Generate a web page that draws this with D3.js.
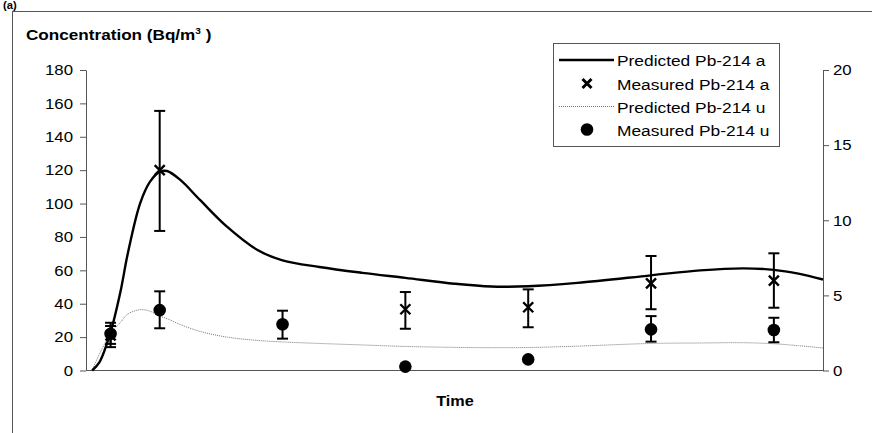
<!DOCTYPE html>
<html>
<head>
<meta charset="utf-8">
<script src="https://cdn.jsdelivr.net/npm/d3@7"></script>
<style>
  html, body { margin: 0; padding: 0; background: #fff; }
  svg { display: block; }
  text { font-family: "Liberation Sans", Arial, sans-serif; fill: #000; }
</style>
</head>
<body>
<svg id="chart" width="872" height="433"></svg>
<script>
// Measurement times (arbitrary time units along the x axis)
const measTimes = [0.2, 0.6, 1.6, 2.6, 3.6, 4.6, 5.6];

// Measured Pb-214 attached (left axis, Bq/m3) with error bar limits
const measuredA     = [21,   120,   null, 36.7, 37.9, 52.2, 53.8];
const measuredALow  = [14,   83.6,  null, 25.0, 25.9, 36.7, 37.6];
const measuredAHigh = [28.6, 155.5, null, 47.0, 48.6, 68.6, 70.2];

// Measured Pb-214 unattached (right axis) with error bar limits
const measuredU     = [2.44, 4.02, 3.08, 0.26, 0.74, 2.74, 2.70];
const measuredULow  = [1.77, 2.81, 2.12, null, null, 1.92, 1.88];
const measuredUHigh = [2.96, 5.27, 3.98, null, null, 3.62, 3.51];

// Model output sampled in time
const predTimes = [0.05, 0.11, 0.2, 0.28, 0.34, 0.44, 0.52, 0.6, 0.66, 0.77, 0.93, 1.15, 1.4, 1.6,
                   1.9, 2.25, 2.6, 3.0, 3.3, 3.6, 4.0, 4.6, 5.0, 5.35, 5.6, 5.8, 6.0];
const predictedA = [0, 5, 23, 47, 70, 100, 113, 119, 119.5, 114, 102, 86, 72, 66,
                    62, 58.5, 55.5, 52, 50.3, 50.5, 52.5, 57, 60, 61.2, 60.3, 58, 54.5];
const predictedU = [0, 1.1, 2.45, 3.2, 3.75, 4.05, 3.95, 3.62, 3.45, 3.05, 2.6, 2.22, 2.0, 1.9,
                    1.8, 1.7, 1.6, 1.54, 1.52, 1.53, 1.62, 1.8, 1.83, 1.85, 1.78, 1.65, 1.5];

// Axis ticks
const leftTicks = [0, 20, 40, 60, 80, 100, 120, 140, 160, 180];
const rightTicks = [0, 5, 10, 15, 20];

const legendLabels = ["Predicted Pb-214 a", "Measured Pb-214 a", "Predicted Pb-214 u", "Measured Pb-214 u"];

// Glyphs are drawn slightly widened horizontally
const SX = 1.12;

const svg = d3.select("#chart");
const plot = { left: 86, right: 823, top: 70, bottom: 370.5 };

const x = d3.scaleLinear().domain([0, 6]).range([plot.left, plot.right]);
const yL = d3.scaleLinear().domain([0, 180]).range([plot.bottom, plot.top]);
const yR = d3.scaleLinear().domain([0, 20]).range([plot.bottom, plot.top]);

// outer frame
svg.append("rect")
  .attr("x", 12.5).attr("y", 11.5).attr("width", 900).attr("height", 500)
  .attr("fill", "none").attr("stroke", "#555").attr("stroke-width", 1);

function stretchedText(g, str, tx, ty, size, weight, anchor) {
  return g.append("text")
    .attr("transform", `translate(${tx},${ty}) scale(${SX},1)`)
    .attr("font-size", size)
    .attr("font-weight", weight || "normal")
    .attr("text-anchor", anchor || "start")
    .text(str);
}

// panel tag at the top-left corner
stretchedText(svg, "(a)", 3, 9, 10, "bold");

// y axis title with superscript
const title = svg.append("text")
  .attr("transform", `translate(26,40) scale(${SX},1)`)
  .attr("font-size", 15.3).attr("font-weight", "bold");
title.append("tspan").text("Concentration (Bq/m");
title.append("tspan").attr("font-size", 9).attr("dy", -6).text("3");
title.append("tspan").attr("dy", 6).text(" )");

// x axis title
stretchedText(svg, "Time", 455, 406, 14.5, "bold", "middle");

// axes
const axisColor = "#555";
function styleAxis(g) {
  g.select(".domain").attr("stroke", axisColor).attr("stroke-width", 1);
  g.selectAll(".tick line").attr("stroke", axisColor);
  g.selectAll(".tick text")
    .attr("font-size", 15)
    .attr("font-family", "Liberation Sans, Arial, sans-serif")
    .attr("fill", "#000")
    .attr("x", function () { return +d3.select(this).attr("x") / SX; })
    .attr("transform", `scale(${SX},1)`);
}

const gL = svg.append("g").attr("transform", `translate(${plot.left},0)`)
  .call(d3.axisLeft(yL).tickValues(leftTicks).tickSize(6).tickPadding(7).tickSizeOuter(0));
styleAxis(gL);

const gR = svg.append("g").attr("transform", `translate(${plot.right},0)`)
  .call(d3.axisRight(yR).tickValues(rightTicks).tickSize(6).tickPadding(4).tickSizeOuter(0));
styleAxis(gR);

svg.append("line")
  .attr("x1", plot.left).attr("x2", plot.right)
  .attr("y1", plot.bottom).attr("y2", plot.bottom)
  .attr("stroke", axisColor).attr("stroke-width", 1);

// predicted curves (smooth interpolation through the model samples)
const smooth = d3.curveCatmullRom.alpha(0.5);
const lineA = d3.line().x((d, i) => x(predTimes[i])).y(d => yL(d)).curve(smooth);
const lineU = d3.line().x((d, i) => x(predTimes[i])).y(d => yR(d)).curve(smooth);

svg.append("path").datum(predictedU)
  .attr("d", lineU).attr("fill", "none")
  .attr("stroke", "#777").attr("stroke-width", 1).attr("stroke-dasharray", "1,1");

svg.append("path").datum(predictedA)
  .attr("d", lineA).attr("fill", "none")
  .attr("stroke", "#000").attr("stroke-width", 2.4);

// error bars
function errorBars(low, high, yScale) {
  const idx = measTimes.map((t, i) => i).filter(i => low[i] != null);
  const g = svg.append("g").attr("stroke", "#000").attr("stroke-width", 2);
  idx.forEach(i => {
    const cx = x(measTimes[i]);
    g.append("line").attr("x1", cx).attr("x2", cx)
      .attr("y1", yScale(low[i])).attr("y2", yScale(high[i]));
    [low[i], high[i]].forEach(v => {
      g.append("line").attr("x1", cx - 5.5).attr("x2", cx + 5.5)
        .attr("y1", yScale(v)).attr("y2", yScale(v));
    });
  });
}
errorBars(measuredALow, measuredAHigh, yL);
errorBars(measuredULow, measuredUHigh, yR);

// markers
function crossPath(cx, cy, r) {
  return `M${cx - r},${cy - r}L${cx + r},${cy + r}M${cx - r},${cy + r}L${cx + r},${cy - r}`;
}
svg.append("g").selectAll("path")
  .data(measTimes.map((t, i) => ({ t, v: measuredA[i] })).filter(d => d.v != null))
  .join("path")
  .attr("d", d => crossPath(x(d.t), yL(d.v), 5))
  .attr("stroke", "#000").attr("stroke-width", 2.4).attr("fill", "none");

svg.append("g").selectAll("circle")
  .data(measTimes.map((t, i) => ({ t, v: measuredU[i] })))
  .join("circle")
  .attr("cx", d => x(d.t)).attr("cy", d => yR(d.v)).attr("r", 6.3)
  .attr("fill", "#000");

// legend
const lg = svg.append("g");
lg.append("rect").attr("x", 553.5).attr("y", 43.5).attr("width", 226).attr("height", 103)
  .attr("fill", "#fff").attr("stroke", "#555").attr("stroke-width", 1);
const rowY = [60, 83.5, 106.5, 129.5];
lg.append("line").attr("x1", 559).attr("x2", 614).attr("y1", rowY[0]).attr("y2", rowY[0])
  .attr("stroke", "#000").attr("stroke-width", 2.4);
lg.append("path").attr("d", crossPath(587, rowY[1], 4.5))
  .attr("stroke", "#000").attr("stroke-width", 3).attr("fill", "none");
lg.append("line").attr("x1", 559).attr("x2", 614).attr("y1", rowY[2]).attr("y2", rowY[2])
  .attr("stroke", "#777").attr("stroke-width", 1).attr("stroke-dasharray", "1,1");
lg.append("circle").attr("cx", 587).attr("cy", rowY[3]).attr("r", 6.3).attr("fill", "#000");
legendLabels.forEach((s, i) => stretchedText(lg, s, 617, rowY[i] + 6, 15.5, "normal"));
</script>
</body>
</html>
